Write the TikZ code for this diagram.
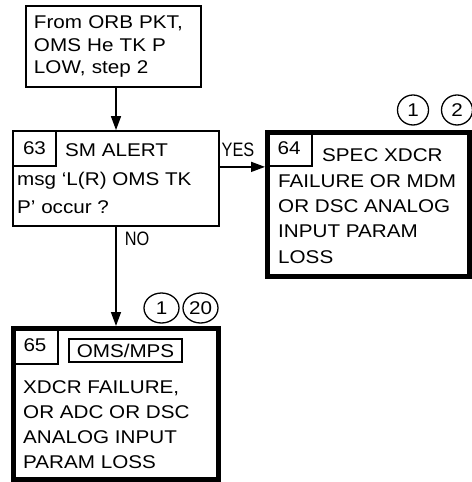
\documentclass[tikz,border=0pt]{standalone}
\usepackage{fontspec}
\setmainfont{Liberation Sans}[FakeStretch=1.12]
\newfontfamily\lblfont{Liberation Sans}[FakeStretch=0.84]
\usetikzlibrary{arrows.meta, positioning, shapes.geometric}

\begin{document}
\begin{tikzpicture}[
    x=1bp, y=-1bp,
    txt/.style={font=\fontsize{18.5}{23}\selectfont, inner sep=0pt, anchor=base west, align=left},
    thinbox/.style={draw, line width=1.8bp, inner sep=0pt},
    thickbox/.style={draw, line width=5bp, inner sep=0pt},
    numbox/.style={thinbox, font=\fontsize{18.5}{23}\selectfont},
    ref/.style={draw, ellipse, line width=1.3bp, inner sep=0pt,
                font=\fontsize{18.5}{23}\selectfont},
    arr/.style={draw, line width=1.5bp, -{Triangle[length=14bp, width=10bp]}},
    lbl/.style={font=\lblfont\fontsize{19.5}{22}\selectfont, inner sep=0pt, anchor=base west},
  ]
  \useasboundingbox (0,0) rectangle (472,482);

  % entry
  \node[thinbox, text width=159bp, inner xsep=8bp, minimum height=81bp, align=left,
        font=\fontsize{18.5}{23}\selectfont] (from) at (113.5,46.5)
        {From ORB PKT,\\ OMS He TK P\\ LOW, step 2};

  % 63 question
  \node[thinbox, minimum width=206bp, minimum height=95bp] (q63) at (116,178.5) {};
  \node[numbox, minimum width=43bp, minimum height=35bp] (n63) at (34.5,148.5) {63};
  \node[txt] (t63) at (65,157) {SM ALERT};
  \node[txt, font=\fontsize{18.5}{28}\selectfont] (b63) at (17,213)
        {msg ‘L(R) OMS TK\\ P’ occur ?};

  % 64 result
  \node[thickbox, minimum width=202bp, minimum height=144bp] (q64) at (368.5,204.5) {};
  \node[numbox, minimum width=46bp, minimum height=35bp] (n64) at (289,148.5) {64};
  \node[txt] (t64) at (322,162) {SPEC XDCR};
  \node[txt, font=\fontsize{18.5}{25.3}\selectfont] (b64) at (278,263)
        {FAILURE OR MDM\\ OR DSC ANALOG\\ INPUT PARAM\\ LOSS};
  \node[ref, minimum width=31bp, minimum height=30bp] (r64a) at (413,110) {1};
  \node[ref, minimum width=31bp, minimum height=30bp] (r64b) at (457,110) {2};

  % 65 result
  \node[thickbox, minimum width=205bp, minimum height=151bp] (q65) at (116,404) {};
  \node[numbox, minimum width=46bp, minimum height=37bp] (n65) at (35,345.5) {65};
  \node[numbox, line width=2.3bp, minimum width=113bp, minimum height=23bp] (sys65)
        at (125.5,350.5) {OMS/MPS};
  \node[txt, font=\fontsize{18.5}{25}\selectfont] (b65) at (23,468)
        {XDCR FAILURE,\\ OR ADC OR DSC\\ ANALOG INPUT\\ PARAM LOSS};
  \node[ref, minimum width=35bp, minimum height=30bp] (r65a) at (161.5,308) {1};
  \node[ref, minimum width=35bp, minimum height=30bp] (r65b) at (200.5,308) {20};

  % connectors
  \draw[arr] (from.south -| q63) -- (q63.north);
  \draw[arr] (q63.east |- n64.south) --
        node[lbl, pos=0, xshift=1bp, yshift=10bp] (yes) {YES} (q64.west |- n64.south);
  \draw[arr] (q63.south) --
        node[lbl, pos=0, xshift=8bp, yshift=-19bp] (no) {NO} (q65.north);
\end{tikzpicture}
\end{document}
